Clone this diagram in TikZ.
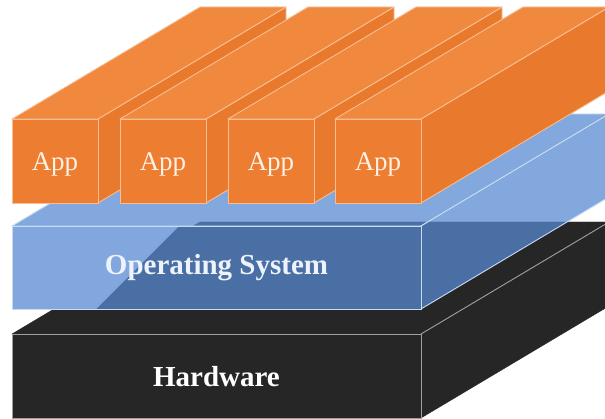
\documentclass[tikz,border=0pt]{standalone}
\usepackage{fontspec}
\setmainfont{Liberation Serif}
\usepackage{xcolor}
\usepackage{tikz}

\definecolor{appfront}{HTML}{ED7D31}
\definecolor{apptop}{HTML}{F0883E}
\definecolor{appside}{HTML}{E9792D}
\definecolor{appedge}{HTML}{F7BE94}
\definecolor{appink}{HTML}{FFF1E4}
\definecolor{osblue}{RGB}{86,137,209}
\definecolor{osdark}{HTML}{4A6FA5}
\definecolor{oslight}{HTML}{82A7DE}
\definecolor{osedge}{HTML}{C9DBF2}
\definecolor{osink}{HTML}{EEF3FB}
\definecolor{hwblack}{HTML}{262626}
\definecolor{hwedge}{HTML}{A0A0A0}

\tikzstyle{appface} = [draw=appedge,line width=0.9pt,line join=round]
\tikzstyle{osface} = [fill=osblue,fill opacity=0.74,draw=osedge,line width=0.9pt]
\tikzstyle{hwface} = [fill=hwblack,draw=hwblack]
\tikzstyle{applabel} = [text=appink,anchor=base,font=\fontsize{27}{32}\selectfont]
\tikzstyle{layerlabel} = [anchor=base,font=\bfseries\fontsize{29}{34}\selectfont]

% depth of every slab (one pixel = one point, y downwards)
\def\depthx{188}
\def\depthy{-112}

\begin{document}
\begin{tikzpicture}[x=1pt,y=-1pt]
	\useasboundingbox (0,0) rectangle (605,419);
	\clip (0,0) rectangle (605,419);
	
	% Hardware:
	% top, right side and front of the black slab
	\fill[hwface] (12,334) -- (421,334) -- ++(\depthx,\depthy) -- ++(-409,0) -- cycle;
	\fill[hwface] (421,334) -- ++(\depthx,\depthy) -- ++(0,84) -- (421,418) -- cycle;
	\fill[hwface] (12,334) rectangle (421,418);
	\draw[hwedge,line width=0.9pt] (12,334) rectangle (421,418);
	\draw[hwedge,line width=0.9pt] (421,334) -- ++(\depthx,\depthy);
	\node[layerlabel,text=white] (hw) at (216.5,387) {Hardware};
	
	% Operating system:
	% see-through slab, the black top of the hardware shows through it
	\path[osface] (12,226) -- (421,226) -- ++(\depthx,\depthy) -- ++(-409,0) -- cycle;
	\path[osface] (421,226) -- ++(\depthx,\depthy) -- ++(0,83) -- (421,309) -- cycle;
	\fill[osdark] (12,226) rectangle (421,309);
	\fill[oslight] (12,226) -- (179,226) -- (96,309) -- (12,309) -- cycle;
	\draw[osedge,line width=0.9pt] (12,226) rectangle (421,309);
	\node[layerlabel,text=osink] (os) at (216.5,275) {Operating System};
	
	% Apps:
	% four long bars standing on the operating system
	\foreach \x/\n in {12/1,120/2,228/3,335/4}
	{
		\pgfmathsetmacro\xr{\x+86}
		\filldraw[appface,fill=appside] (\xr,119) -- ++(\depthx,\depthy) -- ++(0,84) -- (\xr,203) -- cycle;
		\filldraw[appface,fill=apptop] (\x,119) -- (\xr,119) -- ++(\depthx,\depthy) -- ++(-86,0) -- cycle;
		\filldraw[appface,fill=appfront] (\x,119) rectangle (\xr,203);
		\node[applabel] (app\n) at (\x+43,171) {App};
	}
	
\end{tikzpicture}
\end{document}
